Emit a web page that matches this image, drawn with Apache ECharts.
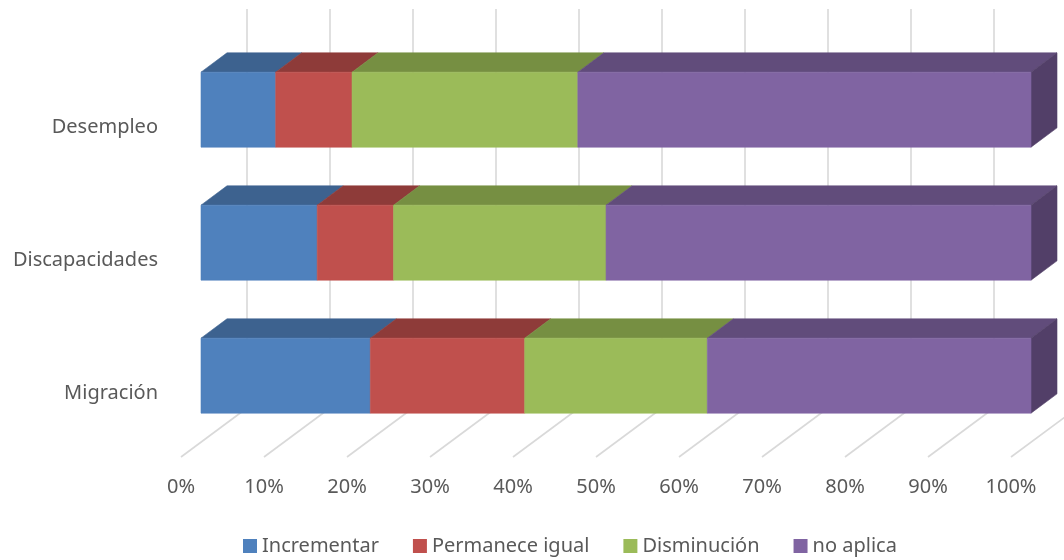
<!DOCTYPE html>
<html>
<head>
<meta charset="utf-8">
<script src="https://cdn.jsdelivr.net/npm/echarts@6/dist/echarts.min.js"></script>
<style>
  html, body { margin: 0; padding: 0; background: #ffffff; }
  #chart { width: 1064px; height: 560px; }
</style>
</head>
<body>
<div id="chart"></div>
<script>
// Categories and share (%) of each answer per category
const categories = ['Desempleo', 'Discapacidades', 'Migración'];
const incrementar = [9.0, 14.0, 20.4];
const permanece = [9.2, 9.2, 18.6];
const disminucion = [27.2, 25.6, 22.0];
const noAplica = [54.6, 51.2, 39.0];
const tickValues = [0, 10, 20, 30, 40, 50, 60, 70, 80, 90, 100];
const seriesNames = ['Incrementar', 'Permanece igual', 'Disminución', 'no aplica'];
const seriesValues = [incrementar, permanece, disminucion, noAplica];

// Face colours: front, top, side
const palette = [
  { front: '#4F81BD', top: '#3D628F', side: '#34547B' },
  { front: '#C0504D', top: '#8E3B39', side: '#7A3230' },
  { front: '#9BBB59', top: '#768F42', side: '#657A38' },
  { front: '#8064A2', top: '#614C7B', side: '#523F68' }
];

// Oblique projection of the floor depth (pixels for full depth)
const DEPTH_X = 66;
const DEPTH_Y = 49;
const D_FRONT = 20 / 66;   // bar front face, as a fraction of floor depth
const D_BACK = 46 / 66;    // bar back face
const BAR_RATIO = 0.564;   // bar height relative to category band
const FONT = '"Noto Sans", "Open Sans", sans-serif';
const TEXT_COLOR = '#595959';

const chart = echarts.init(document.getElementById('chart'), null, { renderer: 'canvas' });

// Build stacked [category, start, end] triples
const stackedData = seriesValues.map(() => []);
categories.forEach((c, ci) => {
  let acc = 0;
  seriesValues.forEach((vals, si) => {
    stackedData[si].push([ci, acc, acc + vals[ci]]);
    acc += vals[ci];
  });
});

function makeBarRenderer(si) {
  const col = palette[si];
  const isLast = si === seriesValues.length - 1;
  return function (params, api) {
    const cat = api.value(0);
    const p0 = api.coord([api.value(1), cat]);
    const p1 = api.coord([api.value(2), cat]);
    const band = api.size([0, 1])[1];
    const h = band * BAR_RATIO / 2;
    const fx = DEPTH_X * D_FRONT, fy = -DEPTH_Y * D_FRONT;
    const bx = DEPTH_X * D_BACK, by = -DEPTH_Y * D_BACK;
    const yc = p0[1];
    const x0 = p0[0], x1 = p1[0];
    const children = [];
    children.push({
      type: 'polygon',
      shape: { points: [[x0 + fx, yc + fy - h], [x1 + fx, yc + fy - h], [x1 + bx, yc + by - h], [x0 + bx, yc + by - h]] },
      style: { fill: col.top, stroke: col.top, lineWidth: 0.6 }
    });
    if (isLast) {
      children.push({
        type: 'polygon',
        shape: { points: [[x1 + fx, yc + fy - h], [x1 + bx, yc + by - h], [x1 + bx, yc + by + h], [x1 + fx, yc + fy + h]] },
        style: { fill: col.side, stroke: col.side, lineWidth: 0.6 }
      });
    }
    children.push({
      type: 'polygon',
      shape: { points: [[x0 + fx, yc + fy - h], [x1 + fx, yc + fy - h], [x1 + fx, yc + fy + h], [x0 + fx, yc + fy + h]] },
      style: { fill: col.front, stroke: col.front, lineWidth: 0.6 }
    });
    return { type: 'group', children: children };
  };
}

// Floor lines and back-wall gridlines at each tick
function renderGrid(params, api) {
  const x = api.coord([api.value(0), 0])[0];
  const cs = params.coordSys;
  const bottom = cs.y + cs.height;
  const top = cs.y;
  const style = { stroke: '#D9D9D9', lineWidth: 1.6, fill: null };
  return {
    type: 'group',
    children: [
      { type: 'line', shape: { x1: x, y1: bottom, x2: x + DEPTH_X, y2: bottom - DEPTH_Y }, style: style },
      { type: 'line', shape: { x1: x + DEPTH_X, y1: bottom - DEPTH_Y, x2: x + DEPTH_X, y2: top - DEPTH_Y }, style: style }
    ]
  };
}

const series = [{
  type: 'custom',
  name: 'grid',
  silent: true,
  clip: false,
  z: 1,
  data: tickValues.map(v => [v]),
  encode: { x: 0 },
  renderItem: renderGrid
}];

seriesNames.forEach((name, si) => {
  series.push({
    type: 'custom',
    name: name,
    clip: false,
    z: 2,
    itemStyle: { color: palette[si].front },
    data: stackedData[si],
    encode: { y: 0, x: [1, 2] },
    renderItem: makeBarRenderer(si)
  });
});

chart.setOption({
  animation: false,
  backgroundColor: '#ffffff',
  grid: { left: 181, right: 53, top: 58, bottom: 103 },
  xAxis: {
    type: 'value',
    min: 0,
    max: 100,
    interval: 10,
    axisLine: { show: false },
    axisTick: { show: false },
    splitLine: { show: false },
    axisLabel: {
      formatter: '{value}%',
      color: TEXT_COLOR,
      fontSize: 20,
      fontFamily: FONT,
      margin: 20
    }
  },
  yAxis: {
    type: 'category',
    data: categories,
    inverse: true,
    axisLine: { show: false },
    axisTick: { show: false },
    splitLine: { show: false },
    axisLabel: {
      color: TEXT_COLOR,
      fontSize: 20,
      fontFamily: FONT,
      margin: 23,
      formatter: '{c|{value}}',
      rich: { c: { color: TEXT_COLOR, fontSize: 20, fontFamily: FONT, padding: [6, 0, 0, 0] } }
    }
  },
  legend: {
    data: seriesNames,
    left: 238,
    top: 531,
    icon: 'rect',
    itemWidth: 14,
    itemHeight: 14,
    itemGap: 34,
    textStyle: { color: TEXT_COLOR, fontSize: 20, fontFamily: FONT }
  },
  series: series
});
</script>
</body>
</html>
